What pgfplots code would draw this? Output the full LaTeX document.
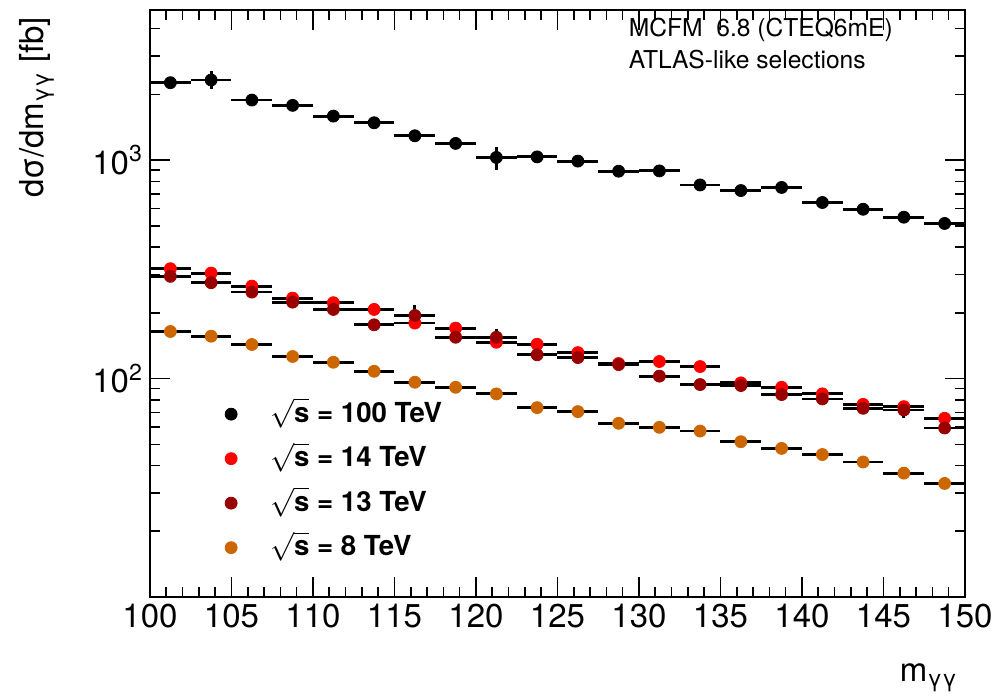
\documentclass[border=0pt]{standalone}
\usepackage{fontspec}
\setmainfont{TeX Gyre Heros}
\usepackage{pgfplots}
\pgfplotsset{compat=1.18}
\usepackage{pgfplotstable}

\definecolor{rootred}{RGB}{255,0,0}
\definecolor{rootdark}{RGB}{153,0,0}
\definecolor{rootorange}{RGB}{204,102,0}

% bin centres, d sigma / d m, y error
\pgfplotstableread{
x y ey
101.25 2263 0
103.75 2328 220
106.25 1884 0
108.75 1782 0
111.25 1591 0
113.75 1483 0
116.25 1293 0
118.75 1193 0
121.25 1029 125
123.75 1035 0
126.25 990 0
128.75 890 0
131.25 893 0
133.75 770 0
136.25 726 0
138.75 750 0
141.25 640 0
143.75 596 0
146.25 548 0
148.75 513 0
}\hundred

\pgfplotstableread{
x y ey
101.25 318.4 0
103.75 304.0 0
106.25 265.0 0
108.75 233.5 0
111.25 222.5 0
113.75 207.3 0
116.25 179.5 10
118.75 170.2 0
121.25 146.7 0
123.75 143.6 0
126.25 131.5 0
128.75 117.2 0
131.25 119.7 0
133.75 113.5 0
136.25 95.6 0
138.75 91.2 0
141.25 85.1 0
143.75 76.2 0
146.25 74.4 0
148.75 65.8 0
}\fourteen

\pgfplotstableread{
x y ey
101.25 293.8 0
103.75 274.8 0
106.25 248.9 0
108.75 223.9 0
111.25 207.3 0
113.75 176.3 0
116.25 194.4 22
118.75 154.6 0
121.25 154.6 14
123.75 128.5 0
126.25 124.8 0
128.75 115.9 0
131.25 102.6 0
133.75 93.9 0
136.25 92.9 0
138.75 84.5 0
141.25 80.7 0
143.75 73.1 0
146.25 71.8 6
148.75 59.4 0
}\thirteen

\pgfplotstableread{
x y ey
101.25 164.3 0
103.75 156.3 0
106.25 143.2 0
108.75 126.2 0
111.25 118.8 0
113.75 108.0 0
116.25 96.2 0
118.75 91.2 0
121.25 85.1 0
123.75 73.6 0
126.25 70.6 0
128.75 62.4 0
131.25 59.8 0
133.75 57.5 0
136.25 51.4 0
138.75 47.9 0
141.25 44.9 0
143.75 41.5 0
146.25 36.9 0
148.75 33.1 0
}\eight

\pgfplotsset{
  binplot/.style={only marks, mark=*, mark size=3pt,
    error bars/x dir=both, error bars/x fixed=1.25,
    error bars/y dir=both, error bars/y explicit,
    error bars/error bar style={black, line width=1.4pt},
    error bars/error mark=none},
}

\begin{document}
\begin{tikzpicture}
\path[use as bounding box] (-75pt,-49.5pt) rectangle (423.5pt,298.5pt);
\begin{axis}[
    at={(0,0)}, anchor=south west,
    scale only axis, width=407.5pt, height=293.5pt,
    xmin=100, xmax=150,
    ymode=log, ymin=10, ymax=4870,
    xtick={100,105,...,150}, minor x tick num=4,
    ytick={100,1000}, yticklabels={10\textsuperscript{2},10\textsuperscript{3}},
    minor ytick={20,30,40,50,60,70,80,90,200,300,400,500,600,700,800,900,2000,3000,4000},
    tick align=inside, tick pos=both,
    major tick length=10pt, minor tick length=5pt,
    axis line style={line width=1pt},
    every tick/.style={black, line width=0.8pt},
    tick label style={font=\fontsize{16.5}{19}\selectfont},
    /pgf/number format/assume math mode=true,
    /pgf/number format/1000 sep={},
    xlabel={m\textsubscript{γγ}},
    xlabel style={at={(axis description cs:1,-0.144)}, anchor=base east,
      font=\fontsize{16.5}{19}\selectfont},
    ylabel={dσ/dm\textsubscript{γγ} [fb]},
    ylabel style={at={(axis description cs:-0.139,1)}, anchor=east,
      font=\fontsize{16.5}{19}\selectfont},
    legend style={at={(axis description cs:0.0917,0.336)}, anchor=north west,
      draw=none, fill=none, inner sep=0pt,
      font=\bfseries\fontsize{13.8}{16}\selectfont,
      nodes={text height=11pt, text depth=3pt, inner sep=0pt},
      row sep=8.25pt,
      /tikz/every odd column/.append style={column sep=16.5pt}},
    legend cell align=left,
]
\addplot[binplot, color=black, forget plot] table[x=x, y=y, y error=ey] {\hundred};
\addplot[binplot, color=rootred, forget plot] table[x=x, y=y, y error=ey] {\fourteen};
\addplot[binplot, color=rootdark, forget plot] table[x=x, y=y, y error=ey] {\thirteen};
\addplot[binplot, color=rootorange, forget plot] table[x=x, y=y, y error=ey] {\eight};

\addlegendimage{only marks, mark=*, mark size=3pt, black}
\addlegendentry{$\sqrt{\textbf{s}}$ = 100 TeV}
\addlegendimage{only marks, mark=*, mark size=3pt, rootred}
\addlegendentry{$\sqrt{\textbf{s}}$ = 14 TeV}
\addlegendimage{only marks, mark=*, mark size=3pt, rootdark}
\addlegendentry{$\sqrt{\textbf{s}}$ = 13 TeV}
\addlegendimage{only marks, mark=*, mark size=3pt, rootorange}
\addlegendentry{$\sqrt{\textbf{s}}$ = 8 TeV}

\node[anchor=base west, font=\fontsize{12.3}{14}\selectfont]
  at (axis description cs:0.579,0.955) {MCFM\ \ 6.8 (CTEQ6mE)};
\node[anchor=base west, font=\fontsize{12.3}{14}\selectfont]
  at (axis description cs:0.579,0.901) {ATLAS-like selections};
\end{axis}
\end{tikzpicture}
\end{document}
